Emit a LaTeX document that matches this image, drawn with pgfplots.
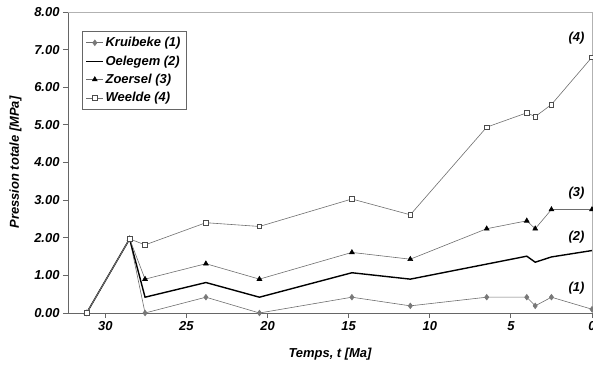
\documentclass[border=0pt]{standalone}
\usepackage{fontspec}
\setmainfont{Liberation Sans}
\usepackage{pgfplots}
\pgfplotsset{compat=1.18}
\usetikzlibrary{calc}
\definecolor{lgray}{RGB}{110,110,110}
\definecolor{mgray}{RGB}{120,120,120}
\newcommand{\cf}{\bfseries\itshape\fontsize{13}{15}\selectfont}
\begin{document}
\begin{tikzpicture}[x=1bp,y=1bp]
\begin{axis}[
  name=ax,
  scale only axis,
  width=524bp, height=301bp,
  x dir=reverse,
  xmin=0, xmax=32.3,
  ymin=0, ymax=8,
  xtick={0,5,10,15,20,25,30},
  ytick={0,1,2,3,4,5,6,7,8},
  tick align=outside,
  tick pos=left,
  major tick length=5bp,
  axis line style={draw=gray!80!black, line width=0.8pt},
  tick style={draw=gray!80!black, line width=0.8pt},
  /pgf/number format/assume math mode=true,
  ticklabel style={font=\cf},
  yticklabel style={/pgf/number format/.cd, fixed, fixed zerofill, precision=2},
  xticklabel style={/pgf/number format/.cd, fixed, precision=0},
  xlabel={Temps, t [Ma]},
  ylabel={Pression totale [MPa]},
  label style={font=\cf},
  xlabel style={at={(0.5,0)}, anchor=north, yshift=-32bp},
  ylabel style={at={(0,0.5)}, anchor=south, yshift=43bp},
  clip=false,
  legend style={at={(0.026,0.937)}, anchor=north west, draw=gray!80!black, line width=0.8pt,
    font=\cf, row sep=3.5bp, inner xsep=4bp, inner ysep=4bp,
    cells={anchor=west}},
  legend image post style={line width=0.6pt},
]
\addplot[lgray, line width=0.6pt, mark=diamond*, mark size=2.8bp, mark options={fill=mgray, draw=mgray}] coordinates {
(31.15,0) (28.5,1.97) (27.55,0) (23.8,0.42) (20.5,0) (14.8,0.42) (11.2,0.19) (6.49,0.42) (4.02,0.42) (3.5,0.19) (2.5,0.42) (0,0.10)};
\addlegendentry{Kruibeke (1)}
\addplot[black, line width=1.4pt, mark=none] coordinates {
(31.15,0) (28.5,1.97) (27.55,0.42) (23.8,0.81) (20.5,0.42) (14.8,1.07) (11.2,0.90) (6.49,1.30) (4.02,1.51) (3.5,1.35) (2.5,1.49) (0,1.66)};
\addlegendentry{Oelegem (2)}
\addplot[lgray, line width=0.6pt, mark=triangle*, mark size=2.8bp, mark options={fill=black, draw=black}] coordinates {
(31.15,0) (28.5,1.97) (27.55,0.90) (23.8,1.31) (20.5,0.90) (14.8,1.61) (11.2,1.43) (6.49,2.24) (4.02,2.45) (3.5,2.24) (2.5,2.75) (0,2.75)};
\addlegendentry{Zoersel (3)}
\addplot[lgray, line width=0.6pt, mark=square*, mark size=2.3bp, mark options={fill=white, draw=black!70, line width=0.6pt}] coordinates {
(31.15,0) (28.5,1.97) (27.55,1.81) (23.8,2.40) (20.5,2.30) (14.8,3.03) (11.2,2.61) (6.49,4.94) (4.02,5.32) (3.5,5.22) (2.5,5.54) (0,6.80)};
\addlegendentry{Weelde (4)}
\draw[gray!60, line width=0.8pt] (rel axis cs:0,1) -- (rel axis cs:1,1) -- (rel axis cs:1,0);
\node[font=\cf] at (axis cs:0.95,7.31) {(4)};
\node[font=\cf] at (axis cs:0.95,3.19) {(3)};
\node[font=\cf] at (axis cs:0.95,2.02) {(2)};
\node[font=\cf] at (axis cs:0.95,0.66) {(1)};
\end{axis}
\pgfresetboundingbox
\path ($(ax.south west)+(-68bp,-54bp)$) rectangle ($(ax.north east)+(1bp,12bp)$);
\end{tikzpicture}
\end{document}
